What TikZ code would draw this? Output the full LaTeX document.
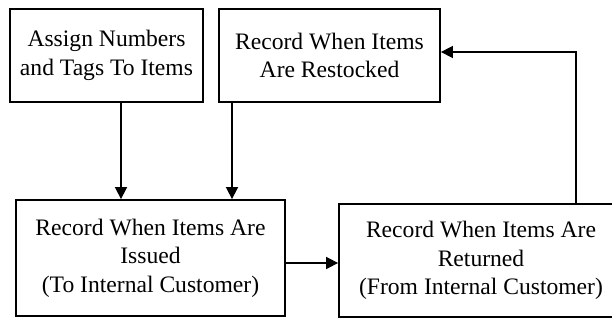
\documentclass[tikz,border=0pt]{standalone}
\usepackage{fontspec}
\setmainfont{Liberation Serif}
\usetikzlibrary{arrows.meta}
\begin{document}
\begin{tikzpicture}[x=1pt,y=-1pt,
  box/.style={draw=black,line width=1.8pt,inner sep=0pt,align=center,
    font=\fontsize{23.6}{28.5}\selectfont},
  arr/.style={line width=1.6pt,-{Triangle[length=12pt,width=12pt]}}]
\useasboundingbox (0,0) rectangle (612,320);
\node[box,minimum width=193pt,minimum height=93pt] (A) at (106.5,55.5) {Assign Numbers\\and Tags To Items};
\node[box,minimum width=221pt,minimum height=93pt] (B) at (329.5,55.5) {Record When Items\\Are Restocked};
\node[box,minimum width=269pt,minimum height=116pt] (C) at (150.5,258) {Record When Items Are\\Issued\\(To Internal Customer)};
\node[box,minimum width=284pt,minimum height=113pt] (D) at (481,260.5) {Record When Items Are\\Returned\\(From Internal Customer)};
\coordinate (a1) at (121,0);
\coordinate (b1) at (232,0);
\coordinate (d1) at (576,0);
\coordinate (r1) at (0,52);
\draw[arr] (A.south -| a1) -- (C.north -| a1);
\draw[arr] (B.south -| b1) -- (C.north -| b1);
\draw[arr] (C.east |- 0,263) -- (D.west |- 0,263);
\draw[arr] (D.north -| d1) |- (B.east |- r1);
\end{tikzpicture}
\end{document}
